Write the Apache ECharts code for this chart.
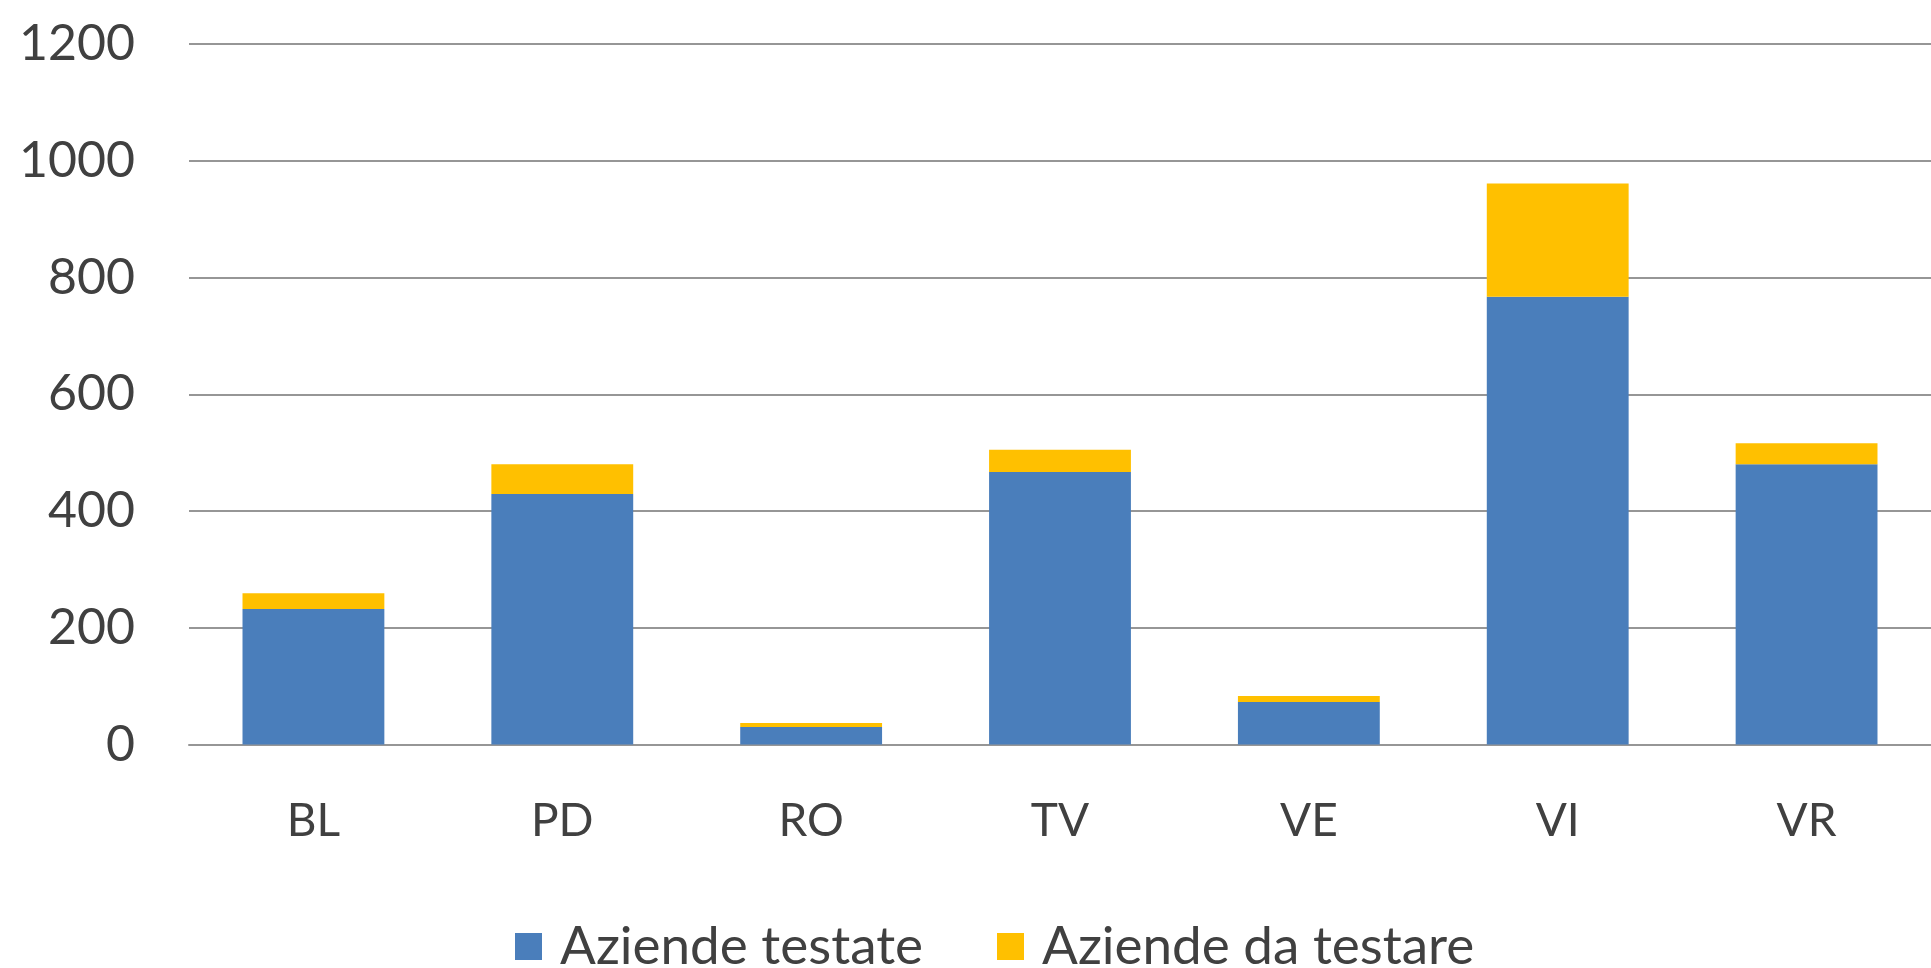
<!DOCTYPE html>
<html>
<head>
<meta charset="utf-8">
<script src="https://cdn.jsdelivr.net/npm/echarts@6/dist/echarts.min.js"></script>
<style>
html,body{margin:0;padding:0;background:#fff;}
#chart{width:1931px;height:968px;}
</style>
</head>
<body>
<div id="chart"></div>
<script>
const categories = ['BL', 'PD', 'RO', 'TV', 'VE', 'VI', 'VR'];
const testate = [232, 429, 30, 467, 73, 767, 480];
const daTestare = [27, 51, 7, 38, 10, 194, 36];
const seriesNames = ['Aziende testate', 'Aziende da testare'];
const yTicks = { min: 0, max: 1200, interval: 200 };

const FONT = 'Lato';
const TXT = '#404040';
const chart = echarts.init(document.getElementById('chart'), null, { renderer: 'canvas' });
chart.setOption({
  backgroundColor: '#ffffff',
  animation: false,
  grid: { left: 189, right: -10, top: 44, bottom: 223.5, containLabel: false },
  legend: {
    data: seriesNames,
    left: 510,
    top: 915,
    itemWidth: 27,
    itemHeight: 27,
    itemGap: 74,
    icon: 'rect',
    textStyle: { fontFamily: FONT, fontSize: 53, color: TXT, padding: [0, 0, 0, 13] }
  },
  xAxis: {
    type: 'category',
    data: categories,
    axisLine: { show: true, lineStyle: { color: '#969696', width: 2 } },
    axisTick: { show: false },
    axisLabel: { fontFamily: FONT, fontSize: 46, color: TXT, margin: 54 }
  },
  yAxis: {
    type: 'value',
    min: yTicks.min,
    max: yTicks.max,
    interval: yTicks.interval,
    axisLine: { show: false },
    axisTick: { show: false },
    splitLine: { lineStyle: { color: '#969696', width: 2 } },
    axisLabel: { fontFamily: FONT, fontSize: 50, color: TXT, margin: 54, formatter: function (v) { return String(v); } }
  },
  series: [
    {
      name: seriesNames[0],
      type: 'bar',
      stack: 'total',
      data: testate,
      barWidth: '57%',
      itemStyle: { color: '#4a7ebb' }
    },
    {
      name: seriesNames[1],
      type: 'bar',
      stack: 'total',
      data: daTestare,
      barWidth: '57%',
      itemStyle: { color: '#ffc000' }
    }
  ]
});
</script>
</body>
</html>
